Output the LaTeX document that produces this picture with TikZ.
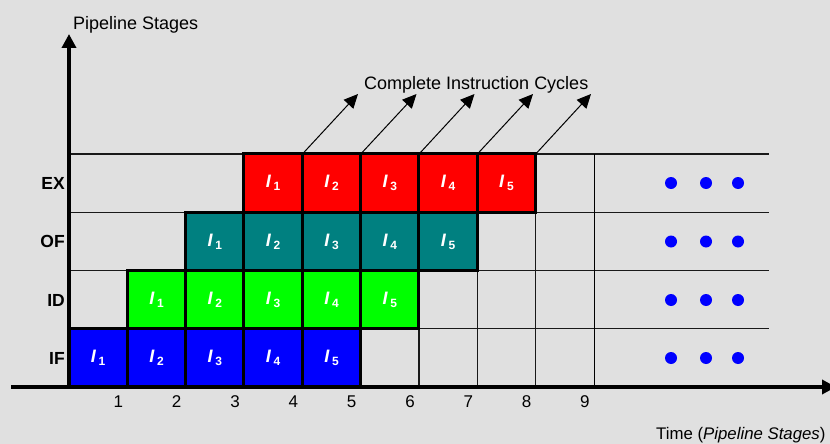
\documentclass[tikz,border=0pt]{standalone}
\usepackage{fontspec}
\setmainfont{Liberation Sans}
\usetikzlibrary{arrows.meta}
\definecolor{bg}{HTML}{E0E0E0}
\definecolor{tealc}{HTML}{008080}
\definecolor{greenc}{HTML}{00FF00}
\definecolor{bluec}{HTML}{0000FF}
\definecolor{redc}{HTML}{FF0000}
\newcommand{\ci}[1]{\textbf{\textit{I}}\kern2.5pt\raisebox{-3pt}{\fontsize{12}{12}\selectfont\bfseries #1}}
\begin{document}
\begin{tikzpicture}[x=1pt,y=-1pt,
  cell/.style={draw=black, line width=3pt, minimum width=58.33pt, minimum height=58.33pt, inner sep=0pt, text=white, font=\fontsize{18}{18}\selectfont},
  stagelbl/.style={anchor=east, font=\fontsize{17.5}{17.5}\selectfont\bfseries, inner sep=0pt},
  numlbl/.style={font=\fontsize{17}{17}\selectfont, inner sep=0pt},
  title/.style={font=\fontsize{18}{18}\selectfont, inner sep=0pt},
  axis/.style={line width=4pt, -{Triangle[length=14pt,width=14pt]}},
  cyc/.style={line width=1pt, -{Triangle[length=14pt,width=13pt]}},
  grid/.style={line width=1.3pt, black!90},
  dot/.style={circle, fill=bluec, minimum size=12pt, inner sep=0pt}]
\fill[bg] (0,0) rectangle (830,444);
\useasboundingbox (0,0) rectangle (830,444);
% horizontal grid lines
\foreach \yy in {154,212.25,270.5,328.75}
  \draw[grid] (69,\yy) -- (769,\yy);
% vertical grid lines in empty area
\foreach \xx in {360.67,419,477.33,535.67}
  \draw[grid] (\xx,154) -- (\xx,387);
\draw[line width=1pt] (594,154) -- (594,387);
% cells
\foreach \r/\col/\nm in {0/bluec/if,1/greenc/id,2/tealc/of,3/redc/ex}{
  \foreach \k in {1,...,5}{
    \pgfmathsetmacro{\cx}{69+58.33*(\r+\k-1)+29.17}
    \pgfmathsetmacro{\cy}{387-58.25*\r-29.12}
    \node[cell, fill=\col] (\nm\k) at (\cx,\cy) {\ci{\k}};
  }
}
% axes
\coordinate (origin) at (69,387);
\coordinate (ytip) at (69,34);
\coordinate (xstart) at (11,387);
\coordinate (xtip) at (836,387);
\draw[axis] (origin) -- (ytip);
\draw[axis] (xstart) -- (xtip);
% stage labels
\node[stagelbl] (lex) at (65,183) {EX};
\node[stagelbl] (lof) at (65,241.5) {OF};
\node[stagelbl] (lid) at (65,300) {ID};
\node[stagelbl] (lif) at (65,358) {IF};
% time numbers
\foreach \k in {1,...,9}{
  \pgfmathsetmacro{\nx}{69+58.33*\k-9}
  \node[numlbl] (n\k) at (\nx,402) {\k};
}
% titles
\node[title, anchor=west] (ytitle) at (73,25) {Pipeline Stages};
\node[title, anchor=west] (ctitle) at (364,85) {Complete Instruction Cycles};
\node[font=\fontsize{16.8}{16.8}\selectfont, inner sep=0pt, anchor=west] (xtitle) at (656,435) {Time (\textit{Pipeline Stages})};
% cycle arrows
\foreach \k/\tx in {1/358,2/416.5,3/474.5,4/533,5/591}{
  \coordinate (t\k) at (\tx,94);
  \draw[cyc] (ex\k.north east) -- (t\k);
}
% dots
\foreach \yy in {183,241.5,300,358}{
  \foreach \xx in {671,706,738}{
    \node[dot] at (\xx,\yy) {};
  }
}
\end{tikzpicture}
\end{document}
